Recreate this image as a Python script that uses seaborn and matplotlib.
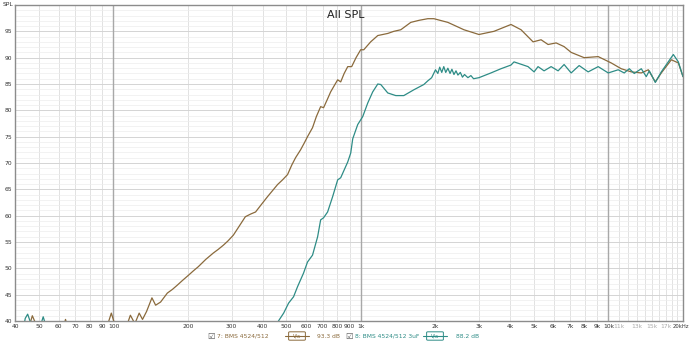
import numpy as np
import pandas as pd
import matplotlib
matplotlib.use("Agg")
import matplotlib.pyplot as plt
import seaborn as sns
from matplotlib.patches import FancyBboxPatch

# ---- data ----
freq_7 = [40, 44, 46, 47, 48.5, 50, 62, 64, 66, 90, 95, 98, 101, 105, 112, 117, 122, 127, 131, 136,
          143, 148, 155, 165, 173, 181, 190, 201, 210, 220, 236, 253, 265, 278, 290, 305, 322, 341,
          358, 375, 397, 419, 440, 460, 482, 505, 525, 544, 570, 590, 608, 637, 660, 687, 706, 730,
          754, 780, 805, 828, 855, 884, 917, 955, 997, 1026, 1094, 1169, 1283, 1357, 1448, 1589,
          1720, 1862, 1970, 2244, 2606, 2996, 3445, 4037, 4433, 4957, 5341, 5700, 6143, 6617,
          7065, 7971, 9087, 10256, 11257, 12363, 13569, 14484, 15457, 16345, 17944, 19152, 20000]
spl_7 = [36, 37, 39.5, 41.0, 39.5, 36, 38, 40.3, 38, 37, 39.5, 41.5, 39.5, 37, 38.5, 41.1, 39.5,
         41.5, 40.3, 41.8, 44.4, 43.0, 43.6, 45.3, 46.0, 46.8, 47.7, 48.7, 49.5, 50.3, 51.7, 52.9,
         53.6, 54.4, 55.2, 56.3, 58.0, 59.8, 60.3, 60.7, 62.2, 63.6, 64.8, 65.9, 66.8, 67.8, 69.6,
         71.0, 72.5, 73.8, 75.0, 76.7, 78.8, 80.7, 80.5, 82.0, 83.5, 84.7, 85.8, 85.4, 87.0, 88.3,
         88.3, 90.0, 91.5, 91.5, 93.0, 94.2, 94.6, 95.0, 95.3, 96.7, 97.1, 97.4, 97.4, 96.7, 95.3,
         94.4, 95.0, 96.3, 95.3, 93.0, 93.4, 92.5, 92.8, 92.1, 91.0, 90.0, 90.2, 89.0, 87.9, 87.3,
         87.1, 87.7, 85.4, 87.1, 89.6, 89.0, 86.4]

freq_8 = [40, 43, 44, 45, 46, 48, 50, 51, 52, 53, 55, 460, 464, 487, 510, 534, 554, 586, 608, 637,
          668, 687, 706, 733, 768, 805, 828, 884, 909, 926, 970, 1016, 1065, 1115, 1169, 1202, 1283,
          1382, 1489, 1635, 1794, 1862, 1930, 2000, 2044, 2080, 2120, 2160, 2200, 2244, 2290, 2330,
          2375, 2420, 2464, 2520, 2570, 2620, 2704, 2780, 2850, 2996, 3350, 3678, 4037, 4152, 4731,
          5004, 5192, 5491, 5864, 6257, 6617, 7065, 7611, 8276, 9087, 9975, 10943, 11575, 12131,
          12708, 13569, 14211, 14615, 15457, 16345, 18281, 19152, 20000]
spl_8 = [36, 38, 40.5, 41.3, 40.0, 38, 37, 39.5, 40.8, 39.5, 37, 37, 40.0, 41.5, 43.4, 44.6, 46.5,
         49.1, 51.2, 52.5, 56.0, 59.2, 59.6, 60.7, 63.6, 66.8, 67.2, 70.2, 71.9, 74.6, 77.3, 78.8,
         81.4, 83.5, 85.0, 84.9, 83.3, 82.8, 82.8, 83.9, 84.9, 85.6, 86.2, 87.7, 87.0, 88.2, 87.2,
         88.3, 87.2, 88.0, 87.0, 87.8, 86.8, 87.5, 86.7, 87.2, 86.3, 86.8, 86.2, 86.6, 86.0, 86.2,
         87.1, 87.9, 88.6, 89.2, 88.3, 87.3, 88.3, 87.5, 88.3, 87.5, 88.7, 87.1, 88.5, 87.3, 88.3,
         87.1, 87.7, 87.1, 87.9, 87.0, 87.9, 86.4, 87.5, 85.3, 87.3, 90.6, 89.2, 86.4]

x_ticks = [40, 50, 60, 70, 80, 90, 100, 200, 300, 400, 500, 600, 700, 800, 900, 1000,
           2000, 3000, 4000, 5000, 6000, 7000, 8000, 9000, 10000, 11000, 13000, 15000, 17000]
x_labels = ["40", "50", "60", "70", "80", "90", "100", "200", "300", "400", "500", "600", "700",
            "800", "900", "1k", "2k", "3k", "4k", "5k", "6k", "7k", "8k", "9k", "10k", "11k",
            "13k", "15k", "17k"]
x_end_label = "20kHz"
y_ticks = [40, 45, 50, 55, 60, 65, 70, 75, 80, 85, 90, 95]

legend_names = ["7: BMS 4524/512", "8: BMS 4524/512 3uF"]
legend_levels = ["93.3 dB", "88.2 dB"]

brown = "#8a6a3c"
teal = "#2e8c86"

df = pd.concat([
    pd.DataFrame({"freq": freq_7, "spl": spl_7, "trace": legend_names[0]}),
    pd.DataFrame({"freq": freq_8, "spl": spl_8, "trace": legend_names[1]}),
])

sns.set_theme(style="white")
plt.rcParams['font.family'] = ['DejaVu Sans']

fig = plt.figure(figsize=(6.9, 3.42), dpi=100)
ax = fig.add_axes([15 / 690, 1 - 321 / 342, (683 - 15) / 690, (321 - 5) / 342])

sns.lineplot(data=df, x="freq", y="spl", hue="trace", palette=[brown, teal],
             ax=ax, legend=False, linewidth=0.9, sort=False, estimator=None)

ax.set_xscale("log")
ax.set_xlim(40, 20000)
ax.set_ylim(40, 100)

# grid
minor_x = [f * m for f in [10, 100, 1000] for m in range(1, 10)] + [10000 + 1000 * i for i in range(11)]
for f in minor_x:
    if 40 <= f <= 20000:
        if f in (100, 1000, 10000):
            ax.axvline(f, color="#a8a8a8", lw=1.0, zorder=0.5)
        else:
            ax.axvline(f, color="#e2e2e2", lw=0.7, zorder=0)
for v in range(41, 100):
    if v % 5 == 0:
        ax.axhline(v, color="#d4d4d4", lw=0.7, zorder=0.1)
    else:
        ax.axhline(v, color="#ededed", lw=0.5, zorder=0)

ax.set_xticks(x_ticks)
ax.set_xticklabels(x_labels)
ax.xaxis.set_minor_locator(matplotlib.ticker.NullLocator())
ax.set_yticks(y_ticks)
ax.set_yticklabels([str(v) for v in y_ticks])
ax.tick_params(axis="both", length=0, labelsize=4.3, colors="#333333", pad=2)
for lbl, val in zip(ax.get_xticklabels(), x_ticks):
    if val in (11000, 13000, 15000, 17000):
        lbl.set_color("#aaaaaa")
fig.text(689 / 690, 1 - 326.5 / 342, x_end_label, fontsize=3.8, color="#333333",
         ha="right", va="center")
ax.set_xlabel("")
ax.set_ylabel("")

for side in ["left", "right", "top", "bottom"]:
    ax.spines[side].set_visible(True)
    ax.spines[side].set_color("#8c8c8c")
    ax.spines[side].set_linewidth(1.0)

ax.set_title("All SPL", fontsize=8, color="#222222", pad=-9, y=1.0, x=0.495, fontweight="medium")
fig.text(3 / 690, 1 - 4 / 342, "SPL", fontsize=4.3, color="#333333", va="center")

# custom legend row at bottom
def legend_item(x0, name, color):
    y = 1 - 336 / 342
    fig.text(x0 / 690, y, "\u2611", fontsize=6, color="#555555", va="center")
    fig.text((x0 + 10) / 690, y, name, fontsize=4.3, color=color, va="center")
    ix = x0 + 78
    fig.add_artist(plt.Line2D([ix / 690, (ix + 24) / 690], [y, y], color=color, lw=0.8,
                              transform=fig.transFigure))
    box = FancyBboxPatch(((ix + 5) / 690, y - 3.5 / 342), 14 / 690, 7 / 342,
                         boxstyle="round,pad=0.002", transform=fig.transFigure,
                         facecolor="white", edgecolor=color, lw=0.7)
    fig.add_artist(box)
    fig.text((ix + 12) / 690, y, "V/a", fontsize=3.6, color=color, va="center", ha="center")

legend_item(207, legend_names[0], brown)
fig.text(317 / 690, 1 - 336 / 342, legend_levels[0], fontsize=4.3, color=brown, va="center")
legend_item(345, legend_names[1], teal)
fig.text(456 / 690, 1 - 336 / 342, legend_levels[1], fontsize=4.3, color=teal, va="center")

fig.savefig("out.png", dpi=100, facecolor="white")
